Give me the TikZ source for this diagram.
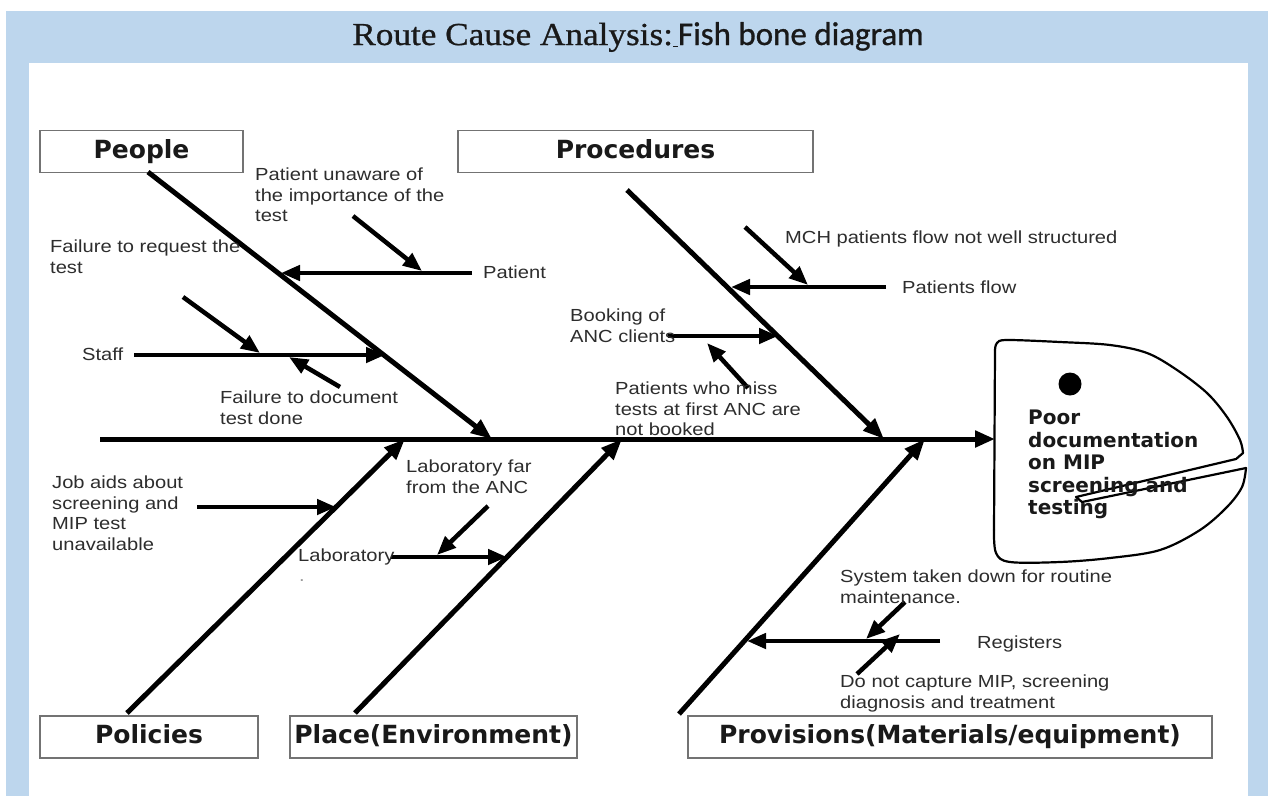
\documentclass[tikz,border=0pt]{standalone}
\usepackage{fontspec}
\setmainfont{Liberation Sans}
\newfontfamily\lblfont[FakeStretch=1.15]{Liberation Sans}
\newfontfamily\boxfont{DejaVu Sans}
\newfontfamily\ttlserif[FakeStretch=1.1,FakeBold=0.8]{Liberation Serif}
\newfontfamily\ttlsans[FakeBold=0.8]{Carlito}
\usetikzlibrary{arrows.meta}
\definecolor{bandblue}{RGB}{189,214,237}
\definecolor{labelgray}{RGB}{45,45,45}

\tikzset{
  catbox/.style={draw=black!55, line width=1.4pt, fill=white, inner sep=0pt,
    minimum height=42pt, text height=18pt, text depth=5pt, text=black!90,
    font=\boxfont\bfseries\fontsize{25}{28}\selectfont},
  lbl/.style={inner sep=0pt, anchor=north west, align=left, text=labelgray,
    font=\lblfont\fontsize{17.5}{20.5}\selectfont},
  spine/.style={line width=5pt, -{Triangle[length=20pt,width=16pt]}},
  bone/.style={line width=5pt, -{Triangle[length=21pt,width=16pt]}},
  rib/.style={line width=4.5pt, -{Triangle[length=19pt,width=15pt]}},
  twig/.style={line width=4.5pt, -{Triangle[length=19pt,width=15pt]}},
  headline/.style={line width=2.2pt, line join=round, line cap=round},
}

\begin{document}
\begin{tikzpicture}[x=1pt, y=-1pt]
  % page frame: light blue band with a white drawing panel
  \useasboundingbox (0,0) rectangle (1268,796);
  \fill[white] (0,0) rectangle (1268,796);
  \fill[bandblue] (6,11) rectangle (1268,796);
  \fill[white] (29,63) rectangle (1248,796);

  % heading
  \node[anchor=base, inner sep=0pt, text=black!90] (title) at (638,45)
    {{\ttlserif\fontsize{32}{36}\selectfont Route Cause Analysis:}\underline{\hspace{5pt}}{\ttlsans\fontsize{33}{36}\selectfont Fish bone diagram}};

  % category boxes
  \node[catbox, minimum width=203pt] (people)     at (141.5,151.5) {People};
  \node[catbox, minimum width=355pt] (procedures) at (635.5,151.5) {Procedures};
  \node[catbox, minimum width=218pt] (policies)   at (149,737)     {Policies};
  \node[catbox, minimum width=287pt] (place)      at (433.5,737)   {Place(Environment)};
  \node[catbox, minimum width=524pt] (provisions) at (950,737)     {Provisions(Materials/equipment)};

  % fish head with the problem statement
  \draw[headline] plot[smooth, tension=0.55] coordinates {
    (995,350) (997,343) (1007,340) (1060,342) (1110,345) (1147,353)
    (1177,370) (1207,393) (1227,417) (1240,440) (1243,453)};
  \draw[headline] (1243,453) -- (1236,459) -- (1076,497) -- (1082,502) -- (1246,468);
  \draw[headline] plot[smooth, tension=0.55] coordinates {
    (1246,468) (1242,487) (1227,507) (1200,530) (1160,550) (1110,558)
    (1060,562) (1010,562) (996,553) (994,530)};
  \draw[headline] (994,530) -- (995,350);
  \fill (1070,384) circle (11.5);
  \node[inner sep=0pt, anchor=north west, align=left, text=black!90,
        font=\boxfont\bfseries\fontsize{20}{22.5}\selectfont] (effect) at (1028,410)
    {Poor\\documentation\\on MIP\\screening and\\testing};

  % spine
  \coordinate (tail) at (100,439);
  \coordinate (mouth) at (995,439);
  \draw[spine] (tail) -- (mouth);

  % main bones: start and joint on the spine
  \coordinate (pB) at (148,172);  \coordinate (pJ) at (492,439);
  \coordinate (qB) at (627,190);  \coordinate (qJ) at (884,439);
  \coordinate (lB) at (127,713);  \coordinate (lJ) at (405,439);
  \coordinate (eB) at (355,713);  \coordinate (eJ) at (622,439);
  \coordinate (vB) at (679,714);  \coordinate (vJ) at (925,439);
  \draw[bone] (pB) -- (pJ);
  \draw[bone] (qB) -- (qJ);
  \draw[bone] (lB) -- (lJ);
  \draw[bone] (eB) -- (eJ);
  \draw[bone] (vB) -- (vJ);

  % ribs (causes)
  \coordinate (r1s) at (472,273); \coordinate (r1t) at (281,273);
  \coordinate (r2s) at (134,355); \coordinate (r2t) at (385,355);
  \coordinate (r3s) at (886,287); \coordinate (r3t) at (731,287);
  \coordinate (r4s) at (668,336); \coordinate (r4t) at (778,336);
  \coordinate (r5s) at (197,507); \coordinate (r5t) at (336,507);
  \coordinate (r6s) at (391,557); \coordinate (r6t) at (507,557);
  \coordinate (r7s) at (940,641); \coordinate (r7t) at (747,641);
  \draw[rib] (r1s) -- (r1t);
  \draw[rib] (r2s) -- (r2t);
  \draw[rib] (r3s) -- (r3t);
  \draw[rib] (r4s) -- (r4t);
  \draw[rib] (r5s) -- (r5t);
  \draw[rib] (r6s) -- (r6t);
  \draw[rib] (r7s) -- (r7t);

  % twigs (sub-causes)
  \coordinate (t1s) at (353,216); \coordinate (t1t) at (422,271);
  \coordinate (t2s) at (183,297); \coordinate (t2t) at (260,353);
  \coordinate (t3s) at (340,387); \coordinate (t3t) at (289,357);
  \coordinate (t4s) at (745,227); \coordinate (t4t) at (808,285);
  \coordinate (t5s) at (748,388); \coordinate (t5t) at (707,343);
  \coordinate (t6s) at (488,506); \coordinate (t6t) at (437,555);
  \coordinate (t7s) at (905,602); \coordinate (t7t) at (866,639);
  \coordinate (t8s) at (857,674); \coordinate (t8t) at (900,634);
  \draw[twig] (t1s) -- (t1t);
  \draw[twig] (t2s) -- (t2t);
  \draw[twig] (t3s) -- (t3t);
  \draw[twig] (t4s) -- (t4t);
  \draw[twig] (t5s) -- (t5t);
  \draw[twig] (t6s) -- (t6t);
  \draw[twig] (t7s) -- (t7t);
  \draw[twig] (t8s) -- (t8t);

  % labels
  \node[lbl] (lPatU)  at (255,168) {Patient unaware of\\the importance of the\\test};
  \node[lbl] (lPat)   at (483,266) {Patient};
  \node[lbl] (lFreq)  at (50,240)  {Failure to request the\\test};
  \node[lbl] (lStaff) at (82,348)  {Staff};
  \node[lbl] (lFdoc)  at (220,391) {Failure to document\\test done};
  \node[lbl] (lMCH)   at (785,231) {MCH patients flow not well structured};
  \node[lbl] (lPflow) at (902,281) {Patients flow};
  \node[lbl] (lBook)  at (570,309) {Booking of\\ANC clients};
  \node[lbl] (lMiss)  at (615,382) {Patients who miss\\tests at first ANC are\\not booked};
  \node[lbl] (lJob)   at (52,476)  {Job aids about\\screening and\\MIP test\\unavailable};
  \node[lbl] (lLabF)  at (406,460) {Laboratory far\\from the ANC};
  \node[lbl] (lLab)   at (298,549) {Laboratory};
  \node[lbl, text=black!40] (lDot) at (299,579) {.};
  \node[lbl] (lSys)   at (840,570) {System taken down for routine\\maintenance.};
  \node[lbl] (lReg)   at (977,636) {Registers};
  \node[lbl] (lDoNot) at (840,675) {Do not capture MIP, screening\\diagnosis and treatment};
\end{tikzpicture}
\end{document}
